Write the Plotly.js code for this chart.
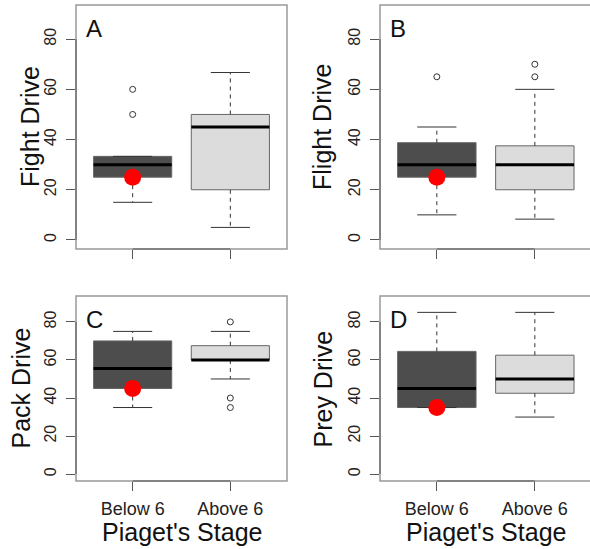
<!DOCTYPE html>
<html>
<head>
<meta charset="utf-8">
<script src="https://cdn.plot.ly/plotly-3.0.1.min.js"></script>
<style>html,body{margin:0;padding:0;background:#fff;}#chart{width:590px;height:549px;}</style>
</head>
<body>
<div id="chart"></div>
<script>
// ---- data ----
const categories = ["Below 6", "Above 6"];
const panelLetters = ["A", "B", "C", "D"];
const panelTitles = ["Fight Drive", "Flight Drive", "Pack Drive", "Prey Drive"];
const xTitle = "Piaget's Stage";
const yTickVals = [0, 20, 40, 60, 80];

// A: Fight Drive
const fightLower = [15, 5];
const fightQ1 = [25, 20];
const fightMedian = [30, 45];
const fightQ3 = [33.3, 50];
const fightUpper = [33.3, 66.7];
const fightOutBelow = [50, 60];
const fightOutAbove = [];
const fightDog = 25;

// B: Flight Drive
const flightLower = [10, 8.3];
const flightQ1 = [25, 20];
const flightMedian = [30, 30];
const flightQ3 = [38.75, 37.5];
const flightUpper = [45, 60];
const flightOutBelow = [65];
const flightOutAbove = [65, 70];
const flightDog = 25;

// C: Pack Drive
const packLower = [35, 50];
const packQ1 = [45, 60];
const packMedian = [55.5, 60];
const packQ3 = [70, 67.5];
const packUpper = [75, 75];
const packOutBelow = [];
const packOutAbove = [80, 40, 35];
const packDog = 45;

// D: Prey Drive
const preyLower = [35, 30];
const preyQ1 = [35, 42.5];
const preyMedian = [45, 50];
const preyQ3 = [64.5, 62.5];
const preyUpper = [85, 85];
const preyOutBelow = [];
const preyOutAbove = [];
const preyDog = 35;

// ---- styling ----
const W = 590, H = 549;
const FONT = "Liberation Sans, Arial, Helvetica, sans-serif";
const boxFill = ["#4d4d4d", "#dcdcdc"];
const boxWidth = 0.8, capHalf = 0.2;

const panels = [
  {lower: fightLower, q1: fightQ1, med: fightMedian, q3: fightQ3, upper: fightUpper, outs: [fightOutBelow, fightOutAbove], dog: fightDog},
  {lower: flightLower, q1: flightQ1, med: flightMedian, q3: flightQ3, upper: flightUpper, outs: [flightOutBelow, flightOutAbove], dog: flightDog},
  {lower: packLower, q1: packQ1, med: packMedian, q3: packQ3, upper: packUpper, outs: [packOutBelow, packOutAbove], dog: packDog},
  {lower: preyLower, q1: preyQ1, med: preyMedian, q3: preyQ3, upper: preyUpper, outs: [preyOutBelow, preyOutAbove], dog: preyDog}
];

const traces = [];
panels.forEach((p, i) => {
  const xa = i === 0 ? "x" : "x" + (i + 1);
  const ya = i === 0 ? "y" : "y" + (i + 1);
  const pos = categories.map((c, k) => k + 1);
  // boxes
  traces.push({
    type: "bar", x: pos, base: p.q1, y: p.q3.map((v, k) => v - p.q1[k]),
    width: boxWidth, xaxis: xa, yaxis: ya, hoverinfo: "skip",
    marker: {color: boxFill, line: {color: "#666", width: 1}}
  });
  // whiskers (dashed), caps, medians
  const wx = [], wy = [], cx = [], cy = [], mx = [], my = [];
  pos.forEach((x, k) => {
    if (p.upper[k] > p.q3[k]) { wx.push(x, x, null); wy.push(p.q3[k], p.upper[k], null); }
    if (p.lower[k] < p.q1[k]) { wx.push(x, x, null); wy.push(p.q1[k], p.lower[k], null); }
    cx.push(x - capHalf, x + capHalf, null, x - capHalf, x + capHalf, null);
    cy.push(p.upper[k], p.upper[k], null, p.lower[k], p.lower[k], null);
    mx.push(x - boxWidth / 2, x + boxWidth / 2, null);
    my.push(p.med[k], p.med[k], null);
  });
  traces.push({type: "scatter", mode: "lines", x: wx, y: wy, xaxis: xa, yaxis: ya, hoverinfo: "skip",
    line: {color: "#333", width: 1, dash: "4px,4px"}});
  traces.push({type: "scatter", mode: "lines", x: cx, y: cy, xaxis: xa, yaxis: ya, hoverinfo: "skip",
    line: {color: "#333", width: 1}});
  traces.push({type: "scatter", mode: "lines", x: mx, y: my, xaxis: xa, yaxis: ya, hoverinfo: "skip",
    line: {color: "#000", width: 3}});
  // outliers
  const ox = [], oy = [];
  p.outs.forEach((arr, k) => arr.forEach(v => { ox.push(k + 1); oy.push(v); }));
  traces.push({type: "scatter", mode: "markers", x: ox, y: oy, xaxis: xa, yaxis: ya, hoverinfo: "skip",
    marker: {symbol: "circle-open", size: 6, color: "#333", line: {width: 1}}});
  // red dot (individual)
  traces.push({type: "scatter", mode: "markers", x: [1], y: [p.dog], xaxis: xa, yaxis: ya, hoverinfo: "skip",
    marker: {symbol: "circle", size: 17, color: "#ff0000"}});
});

// pixel geometry of panels
const px = (a, b) => [a / W, b / W];
const py = (top, bottom) => [1 - bottom / H, 1 - top / H];
const colDom = [px(76, 287), px(380, 590)];
const rowDom = [py(5, 249), py(296, 481)];
const xRanges = [[0.42, 2.58], [0.42, 0.42 + 210 / 98]];
const yTitleX = [[30, 322], [20, 322]];

const layout = {
  width: W, height: H, margin: {l: 0, r: 0, t: 0, b: 0},
  paper_bgcolor: "#fff", plot_bgcolor: "#fff", showlegend: false,
  font: {family: FONT, color: "#222"},
  shapes: [], annotations: []
};

for (let i = 0; i < 4; i++) {
  const col = i % 2, row = Math.floor(i / 2);
  const sfx = i === 0 ? "" : String(i + 1);
  layout["xaxis" + sfx] = {
    domain: colDom[col], range: xRanges[col], anchor: "y" + sfx,
    tickvals: [1, 2], ticktext: categories, showticklabels: row === 1,
    ticks: "outside", ticklen: 9, tickcolor: "#555", tickwidth: 1,
    tickfont: {size: 18, family: FONT, color: "#222"}, ticklabelstandoff: 2,
    showgrid: false, zeroline: false, showline: false, fixedrange: true
  };
  layout["yaxis" + sfx] = {
    domain: rowDom[row], range: [-3.6, 93.6], anchor: "x" + sfx,
    tickvals: yTickVals, ticks: "outside", ticklen: 9, tickcolor: "#555", tickwidth: 1,
    tickangle: -90, tickfont: {size: 16, family: FONT, color: "#222"}, ticklabelstandoff: 4,
    showgrid: false, zeroline: false, showline: false, fixedrange: true
  };
  const xr = "x" + sfx, yr = "y" + sfx;
  // frame
  layout.shapes.push({type: "rect", xref: xr + " domain", yref: yr + " domain",
    x0: 0, x1: col === 1 ? 1.05 : 1, y0: 0, y1: 1, line: {color: "#999", width: 1.5}, layer: "above"});
  // R-style axis lines spanning tick range
  layout.shapes.push({type: "line", xref: xr + " domain", yref: yr, x0: 0, x1: 0, y0: 0, y1: 80,
    line: {color: "#555", width: 1}});
  layout.shapes.push({type: "line", xref: xr, yref: yr + " domain", x0: 1, x1: 2, y0: 0, y1: 0,
    line: {color: "#555", width: 1}});
  // panel letter
  const leftPx = [76, 380][col], topPx = [5, 296][row];
  layout.annotations.push({text: panelLetters[i], xref: "paper", yref: "paper",
    x: (leftPx + 8) / W, y: 1 - (topPx + 23.5) / H, xanchor: "left", yanchor: "middle",
    showarrow: false, font: {size: 24, family: FONT, color: "#111"}});
  // y title
  const d = rowDom[row];
  layout.annotations.push({text: panelTitles[i], xref: "paper", yref: "paper",
    x: yTitleX[row][col] / W, y: (d[0] + d[1]) / 2, xanchor: "center", yanchor: "middle", textangle: -90,
    showarrow: false, font: {size: 25, family: FONT, color: "#111"}});
  // x title
  if (row === 1) {
    const cxPx = col === 0 ? (76 + 287) / 2 : (380 + 592) / 2;
    layout.annotations.push({text: xTitle, xref: "paper", yref: "paper",
      x: cxPx / W, y: 1 - 532 / H, xanchor: "center", yanchor: "middle",
      showarrow: false, font: {size: 25, family: FONT, color: "#111"}});
  }
}

Plotly.newPlot("chart", traces, layout, {displayModeBar: false, staticPlot: true});
</script>
</body>
</html>
